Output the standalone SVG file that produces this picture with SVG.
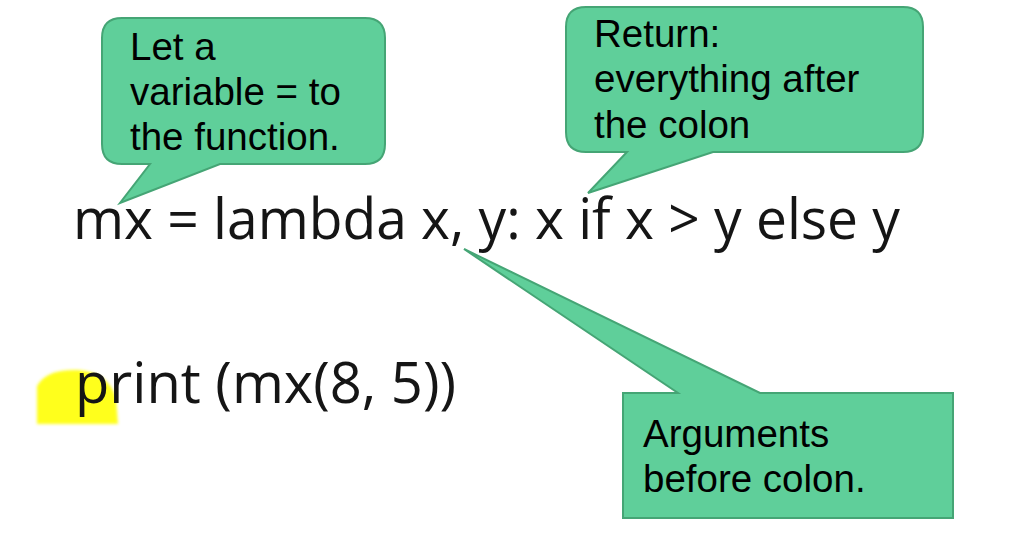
<svg xmlns="http://www.w3.org/2000/svg" width="1030" height="552" viewBox="0 0 1030 552">
<defs>
<style>
.callout{fill:#5fcf9a;stroke:#45a575;stroke-width:2;stroke-linejoin:miter}
.note{font-family:"Liberation Sans",Arial,sans-serif;font-size:38.5px;fill:#000}
.code{font-family:"Open Sans","Noto Sans",sans-serif;font-size:57px;fill:#151515}
</style>
<filter id="soft" x="-20%" y="-20%" width="140%" height="140%"><feGaussianBlur stdDeviation="1.5"/></filter>
</defs>
<rect width="1030" height="552" fill="#fff"/>
<g id="highlight">
<path d="M37,424 L37,386 Q46,369 78,370 Q108,372 116,398 L118,424 Z" fill="#ffff1e" filter="url(#soft)"/>
</g>
<g id="code">
<text class="code" x="73" y="239" textLength="827" lengthAdjust="spacingAndGlyphs">mx = lambda x, y: x if x &gt; y else y</text>
<text class="code" x="75" y="403" textLength="381" lengthAdjust="spacingAndGlyphs">print (mx(8, 5))</text>
</g>
<g id="connectors"></g>
<g id="callout-variable">
<path class="callout" d="M122,18 H365 Q385,18 385,38 V144 Q385,164 365,164 H220 L120,203 L150,164 H122 Q102,164 102,144 V38 Q102,18 122,18 Z"/>
<text class="note" x="130" y="60">Let a</text>
<text class="note" x="130" y="105">variable = to</text>
<text class="note" x="130" y="150">the function.</text>
</g>
<g id="callout-return">
<path class="callout" d="M586,7 H903 Q923,7 923,27 V132 Q923,152 903,152 H713 L588,193 L627,152 H586 Q566,152 566,132 V27 Q566,7 586,7 Z"/>
<text class="note" x="594" y="47">Return:</text>
<text class="note" x="594" y="92">everything after</text>
<text class="note" x="594" y="138">the colon</text>
</g>
<g id="callout-arguments">
<path class="callout" d="M623,393 H678 L464,249 L760,393 H953 V518 H623 Z"/>
<text class="note" x="643" y="447">Arguments</text>
<text class="note" x="643" y="492">before colon.</text>
</g>
</svg>
